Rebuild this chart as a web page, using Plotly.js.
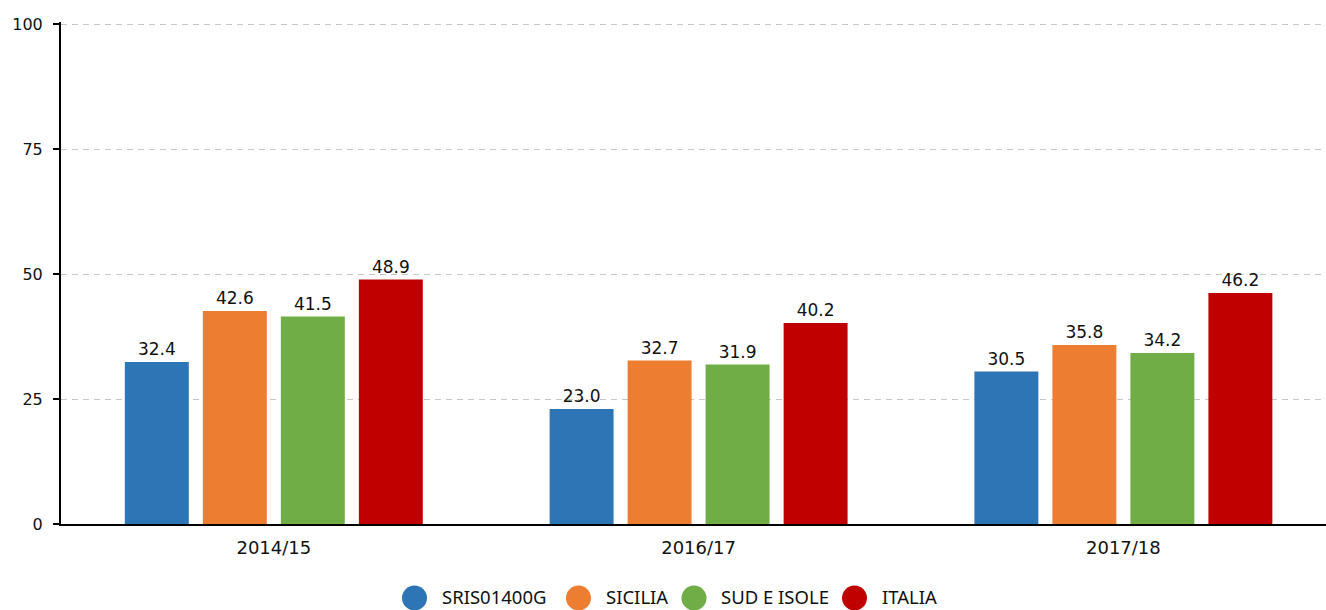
<!DOCTYPE html>
<html>
<head>
<meta charset="utf-8">
<script src="https://cdn.plot.ly/plotly-3.0.1.min.js"></script>
<style>html,body{margin:0;padding:0;background:#fff;}#chart{width:1326px;height:610px;}</style>
</head>
<body>
<div id="chart"></div>
<script>
const categories = ["2014/15", "2016/17", "2017/18"];
const seriesNames = ["SRIS01400G", "SICILIA", "SUD E ISOLE", "ITALIA"];
const seriesColors = ["#2E75B6", "#ED7D31", "#70AD47", "#C00000"];
const sris01400g = [32.4, 23.0, 30.5];
const sicilia = [42.6, 32.7, 35.8];
const sudEIsole = [41.5, 31.9, 34.2];
const italia = [48.9, 40.2, 46.2];
const yTicks = [0, 25, 50, 75, 100];

const seriesValues = [sris01400g, sicilia, sudEIsole, italia];
const font = "DejaVu Sans, Verdana, sans-serif";

const traces = seriesValues.map((vals, i) => ({
  type: "bar",
  name: seriesNames[i],
  x: categories,
  y: vals,
  marker: {color: seriesColors[i]},
  text: vals.map(v => v.toFixed(1)),
  textposition: "outside",
  textfont: {family: font, size: 17, color: "#111"},
  cliponaxis: false,
  showlegend: false,
  hoverinfo: "x+y+name"
}));

// Plot area geometry (pixels) used to place the custom legend
const W = 1326, H = 610;
const M = {l: 61, r: 0, t: 22, b: 86};
const pw = W - M.l - M.r, ph = H - M.t - M.b;

// Custom legend with large circle markers
const legendX = [414.5, 578.5, 694, 854.5];
const legendY = 598;
const shapes = [];
const annotations = [];
seriesNames.forEach((n, i) => {
  shapes.push({
    type: "circle", xref: "paper", yref: "paper",
    xsizemode: "pixel", ysizemode: "pixel",
    xanchor: (legendX[i] - M.l) / pw, yanchor: (H - M.b - legendY) / ph,
    x0: -12.5, x1: 12.5, y0: -12.5, y1: 12.5,
    fillcolor: seriesColors[i], line: {width: 0}
  });
  annotations.push({
    xref: "paper", yref: "paper",
    x: (legendX[i] + 25 - M.l) / pw, y: (H - M.b - 596) / ph,
    xanchor: "left", yanchor: "middle",
    text: n, showarrow: false,
    font: {family: "Noto Sans, sans-serif", size: 18.5, color: "#111"}
  });
});

const layout = {
  width: W, height: H,
  margin: M,
  paper_bgcolor: "#fff", plot_bgcolor: "#fff",
  barmode: "group",
  bargap: 0.2655,
  bargroupgap: 0.18,
  xaxis: {
    type: "category",
    range: [-0.501, 2.477],
    showline: true, linecolor: "#000", linewidth: 2,
    ticks: "", showgrid: false,
    ticklabelstandoff: 6,
    tickfont: {family: font, size: 18, color: "#111"},
    fixedrange: true
  },
  yaxis: {
    range: [0, 100.4],
    tickvals: yTicks,
    showline: true, linecolor: "#000", linewidth: 2,
    ticks: "outside", ticklen: 6, tickwidth: 2, tickcolor: "#000",
    ticklabelstandoff: 7,
    showgrid: true, gridcolor: "#c8c8c8", griddash: "6px,5px", gridwidth: 1,
    zeroline: false,
    tickfont: {family: font, size: 16, color: "#111"},
    fixedrange: true
  },
  shapes: shapes,
  annotations: annotations,
  showlegend: false
};

Plotly.newPlot("chart", traces, layout, {displayModeBar: false, staticPlot: true});
</script>
</body>
</html>
